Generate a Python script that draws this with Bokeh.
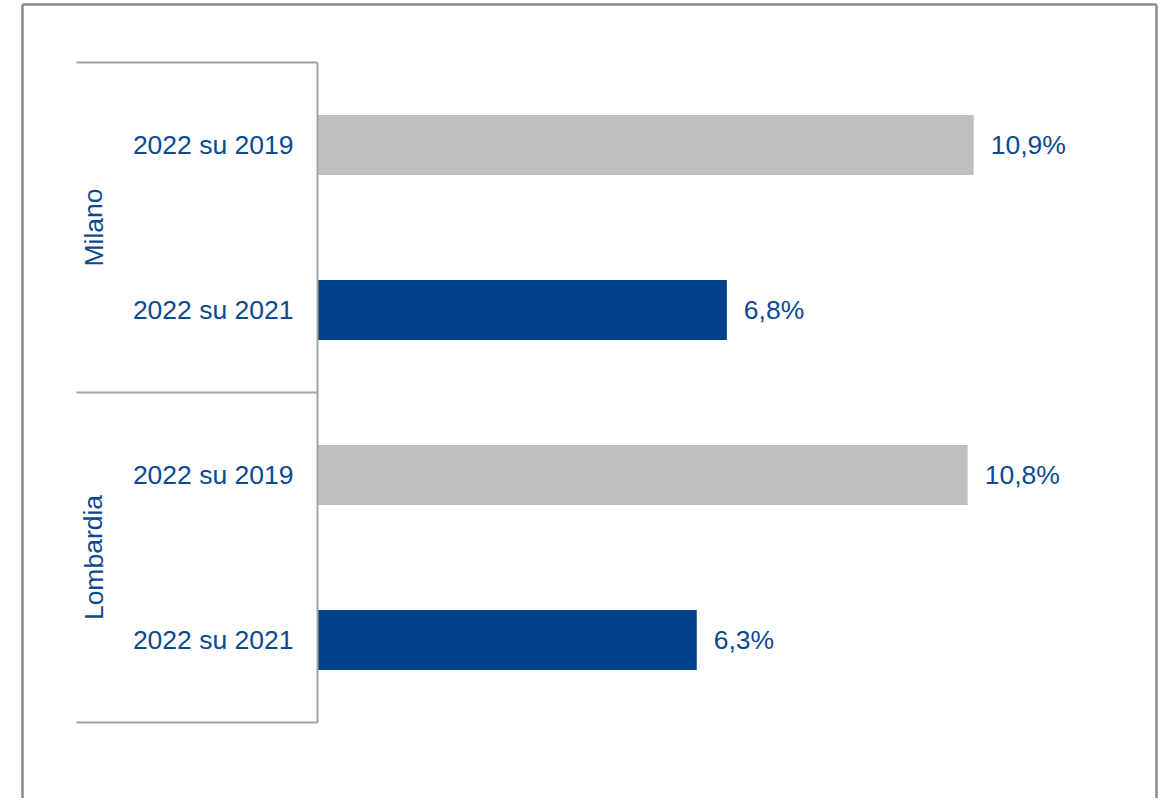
from bokeh.plotting import figure
from bokeh.models import Range1d
from bokeh.embed import file_html
from bokeh.resources import INLINE
from bokeh.core.properties import value

# ---- data (bottom to top) ----
groups = ["Lombardia", "Lombardia", "Milano", "Milano"]
periods = ["2022 su 2021", "2022 su 2019", "2022 su 2021", "2022 su 2019"]
values = [6.3, 10.8, 6.8, 10.9]
value_labels = ["6,3%", "10,8%", "6,8%", "10,9%"]
group_names = ["Lombardia", "Milano"]

GRAY = "#BFBFBF"
BLUE = "#00438A"
TEXT = "#0B4A90"
SEP = "#A3A39D"
BORDER = "#8A8A8A"
FONT = value("Liberation Sans")
FS = "26.5px"

W, H = 1161, 798
OFF = 0                    # canvas origin in screenshot pixels
PX_PER_UNIT = 60.2
ZERO_PX = 317 - OFF        # pixel of x=0 inside canvas
CAT_PX = 165.0             # pixels per category
TOP_PX = 62 - OFF          # pixel of the top category boundary

x_start = -ZERO_PX / PX_PER_UNIT
x_end = x_start + W / PX_PER_UNIT
y_end = len(values) + TOP_PX / CAT_PX
y_start = y_end - H / CAT_PX

def px_x(px):
    return x_start + (px - OFF) / PX_PER_UNIT

def px_y(py):
    return y_end - (py - OFF) / CAT_PX

p = figure(width=W, height=H, output_backend="svg", toolbar_location=None,
           x_range=Range1d(x_start, x_end), y_range=Range1d(y_start, y_end),
           min_border=0, min_border_left=0, min_border_right=0,
           min_border_top=0, min_border_bottom=0)
p.axis.visible = False
p.grid.visible = False
p.outline_line_color = None
p.background_fill_color = "white"
p.border_fill_color = "white"

n = len(values)
ys = [i + 0.5 for i in range(n)]
colors = [BLUE if "2021" in per else GRAY for per in periods]

# bars
p.hbar(y=ys, left=0, right=values, height=60 / CAT_PX, color=colors, line_color=None)

# value labels
p.text(x=[v + 17 / PX_PER_UNIT for v in values], y=ys, text=value_labels,
       text_font=FONT, text_font_size=FS, text_color=TEXT,
       text_align="left", text_baseline="middle")

# category labels
p.text(x=[-24 / PX_PER_UNIT] * n, y=ys, text=periods,
       text_font=FONT, text_font_size=FS, text_color=TEXT,
       text_align="right", text_baseline="middle")

# group labels (rotated)
gx = px_x(93)
gy = []
for g in group_names:
    idx = [i for i, gg in enumerate(groups) if gg == g]
    gy.append((min(idx) + max(idx) + 1) / 2)
p.text(x=[gx] * len(group_names), y=gy, text=group_names, angle=1.5708,
       text_font=FONT, text_font_size=FS, text_color=TEXT,
       text_align="center", text_baseline="middle")

# group separators and axis line
bounds = [0, 2, 4]
p.segment(x0=[px_x(76)] * 3, y0=bounds, x1=[0] * 3, y1=bounds,
          line_color=SEP, line_width=2)
p.segment(x0=[0], y0=[0], x1=[0], y1=[n], line_color=SEP, line_width=2)

# outer border (top, left, right)
bl, br, bt, bb = px_x(22), px_x(1156), px_y(4), px_y(830)
p.segment(x0=[bl, bl, br], y0=[bt, bt, bt], x1=[br, bl, br], y1=[bt, bb, bb],
          line_color=BORDER, line_width=2.5)

open("out.html", "w").write(file_html(p, INLINE))
